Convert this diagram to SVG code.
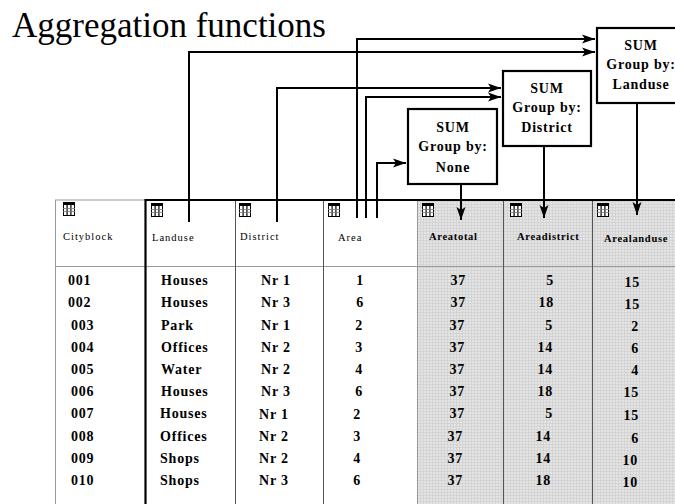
<svg xmlns="http://www.w3.org/2000/svg" width="675" height="504" viewBox="0 0 675 504">
<style>
.title{font-family:"Liberation Serif",serif;font-size:35px;fill:#000}
.box{fill:#fff;stroke:#000;stroke-width:2.2}
.bt{font-family:"Liberation Serif",serif;font-size:14px;font-weight:bold;letter-spacing:0.8px;text-anchor:middle;fill:#000}
.hd{font-family:"Liberation Serif",serif;font-size:10.5px;letter-spacing:1px;fill:#000}
.hdb{font-family:"Liberation Serif",serif;font-size:10.5px;font-weight:bold;letter-spacing:0.7px;fill:#000}
.d{font-family:"Liberation Serif",serif;font-size:14px;font-weight:bold;letter-spacing:0.8px;fill:#000}
.r{text-anchor:end}
.c{fill:none;stroke:#000;stroke-width:2}
.thin{stroke:#555;stroke-width:1}
.gray{stroke:#999;stroke-width:1}
</style>
<defs>
<pattern id="grid" width="3" height="3" patternUnits="userSpaceOnUse">
<rect width="3" height="3" fill="#e4e4e4"/>
<rect width="3" height="1" fill="#d4d4d4"/>
<rect width="1" height="3" fill="#d4d4d4"/>
</pattern>
<marker id="ah" markerWidth="14" markerHeight="10" refX="13" refY="5" orient="auto" markerUnits="userSpaceOnUse">
<path d="M0,0.5 L13,5 L0,9.5 L3,5 z" fill="#000"/>
</marker>
<g id="icon">
<rect x="0.5" y="0.5" width="11" height="13" fill="#fff" stroke="#000" stroke-width="1"/>
<rect x="0" y="0" width="12" height="3" fill="#000"/>
<rect x="3.5" y="3" width="1.2" height="11" fill="#000"/>
<rect x="7.3" y="3" width="1.2" height="11" fill="#000"/>
<line x1="0" y1="6.5" x2="12" y2="6.5" stroke="#777" stroke-width="0.8"/>
<line x1="0" y1="9.5" x2="12" y2="9.5" stroke="#777" stroke-width="0.8"/>
</g>
</defs>
<rect width="675" height="504" fill="#fff"/>
<text class="title" x="12" y="37">Aggregation functions</text>

<g id="table">
<rect x="417" y="200" width="258" height="304" fill="url(#grid)"/>
<line class="gray" x1="55" y1="200" x2="145" y2="200"/>
<line class="gray" x1="55.5" y1="200" x2="55.5" y2="504"/>
<line class="gray" x1="55" y1="266.5" x2="675" y2="266.5"/>
<line class="thin" x1="235.5" y1="200" x2="235.5" y2="504"/>
<line class="thin" x1="323.5" y1="200" x2="323.5" y2="504"/>
<line class="gray" x1="417.5" y1="200" x2="417.5" y2="504"/>
<line class="thin" x1="503.5" y1="200" x2="503.5" y2="504"/>
<line class="thin" x1="592.5" y1="200" x2="592.5" y2="504"/>
<line x1="145" y1="200" x2="675" y2="200" stroke="#000" stroke-width="2.2"/>
<line x1="145.5" y1="199" x2="145.5" y2="504" stroke="#000" stroke-width="2.2"/>
<use href="#icon" x="63" y="202"/>
<use href="#icon" x="151" y="203"/>
<use href="#icon" x="239" y="203"/>
<use href="#icon" x="328" y="203"/>
<use href="#icon" x="422" y="203"/>
<use href="#icon" x="510" y="203"/>
<use href="#icon" x="597" y="203"/>
<text class="hd" x="63" y="240">Cityblock</text>
<text class="hd" x="152" y="241">Landuse</text>
<text class="hd" x="240" y="240">District</text>
<text class="hd" x="338" y="241">Area</text>
<text class="hdb" x="429" y="240">Areatotal</text>
<text class="hdb" x="517" y="240">Areadistrict</text>
<text class="hdb" x="604" y="242">Arealanduse</text>
</g>

<g id="rows">
<g class="d">
<text x="68" y="285">001</text><text x="161" y="285">Houses</text><text x="261" y="285">Nr 1</text>
<text x="68" y="307">002</text><text x="161" y="307">Houses</text><text x="261" y="307">Nr 3</text>
<text x="71" y="330">003</text><text x="161" y="330">Park</text><text x="261" y="330">Nr 1</text>
<text x="71" y="352">004</text><text x="161" y="352">Offices</text><text x="261" y="352">Nr 2</text>
<text x="71" y="374">005</text><text x="161" y="374">Water</text><text x="261" y="374">Nr 2</text>
<text x="71" y="396">006</text><text x="161" y="396">Houses</text><text x="261" y="396">Nr 3</text>
<text x="71" y="418">007</text><text x="160" y="418">Houses</text><text x="259" y="419">Nr 1</text>
<text x="71" y="441">008</text><text x="160" y="441">Offices</text><text x="259" y="441">Nr 2</text>
<text x="71" y="463">009</text><text x="160" y="463">Shops</text><text x="259" y="463">Nr 2</text>
<text x="71" y="485">010</text><text x="160" y="485">Shops</text><text x="259" y="485">Nr 3</text>
</g>
<g class="d r">
<text x="364" y="285">1</text><text x="466" y="285">37</text><text x="554" y="285">5</text><text x="640" y="287">15</text>
<text x="364" y="307">6</text><text x="466" y="307">37</text><text x="554" y="307">18</text><text x="640" y="309">15</text>
<text x="363" y="330">2</text><text x="465" y="330">37</text><text x="553" y="330">5</text><text x="639" y="331">2</text>
<text x="363" y="352">3</text><text x="465" y="352">37</text><text x="553" y="352">14</text><text x="639" y="353">6</text>
<text x="363" y="374">4</text><text x="465" y="374">37</text><text x="553" y="374">14</text><text x="639" y="375">4</text>
<text x="363" y="396">6</text><text x="465" y="396">37</text><text x="553" y="396">18</text><text x="639" y="397">15</text>
<text x="361" y="419">2</text><text x="465" y="418">37</text><text x="553" y="418">5</text><text x="639" y="420">15</text>
<text x="361" y="441">3</text><text x="463" y="441">37</text><text x="551" y="441">14</text><text x="639" y="443">6</text>
<text x="361" y="463">4</text><text x="463" y="463">37</text><text x="551" y="463">14</text><text x="638" y="465">10</text>
<text x="361" y="485">6</text><text x="463" y="485">37</text><text x="551" y="485">18</text><text x="638" y="487">10</text>
</g>
</g>

<g id="connectors">
<path class="c" d="M189,222 V52 H595" marker-end="url(#ah)"/>
<path class="c" d="M277,222 V88 H501" marker-end="url(#ah)"/>
<path class="c" d="M357,218 V39 H595" marker-end="url(#ah)"/>
<path class="c" d="M366,218 V97 H501" marker-end="url(#ah)"/>
<path class="c" d="M377,218 V163 H406" marker-end="url(#ah)"/>
<path class="c" d="M461,184 V220" marker-end="url(#ah)"/>
<path class="c" d="M544,146 V218" marker-end="url(#ah)"/>
<path class="c" d="M637,103 V215" marker-end="url(#ah)"/>
</g>

<g id="node-none">
<rect class="box" x="408" y="109" width="89" height="75"/>
<text class="bt" x="453" y="132">SUM</text>
<text class="bt" x="453" y="151">Group by:</text>
<text class="bt" x="453" y="172">None</text>
</g>
<g id="node-district">
<rect class="box" x="503" y="71" width="88" height="75"/>
<text class="bt" x="547" y="93">SUM</text>
<text class="bt" x="547" y="112">Group by:</text>
<text class="bt" x="547" y="132">District</text>
</g>
<g id="node-landuse">
<rect class="box" x="597" y="28" width="88" height="75"/>
<text class="bt" x="641" y="50">SUM</text>
<text class="bt" x="641" y="69">Group by:</text>
<text class="bt" x="641" y="89">Landuse</text>
</g>
</svg>
